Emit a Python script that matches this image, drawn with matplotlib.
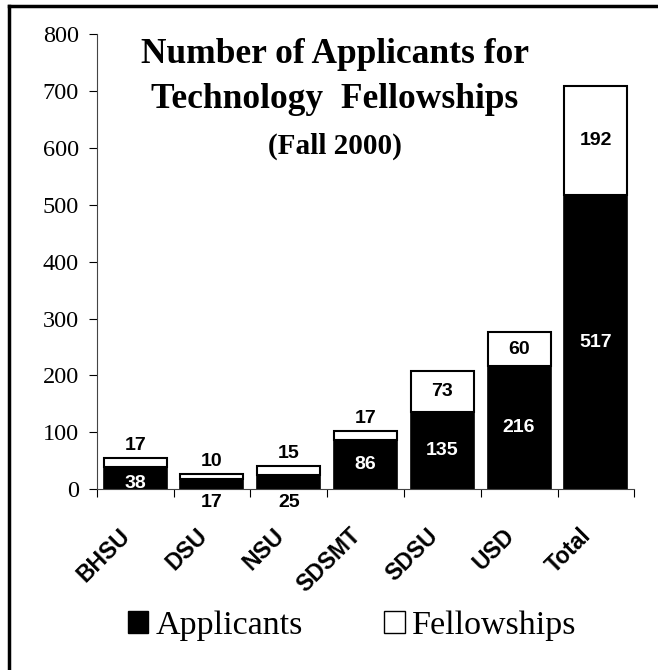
import matplotlib
matplotlib.use('Agg')
import matplotlib.pyplot as plt
import matplotlib.transforms as mtransforms
from matplotlib.patches import Patch
from matplotlib.lines import Line2D

# Data
schools = ['BHSU', 'DSU', 'NSU', 'SDSMT', 'SDSU', 'USD', 'Total']
applicants = [38, 17, 25, 86, 135, 216, 517]
fellowships = [17, 10, 15, 17, 73, 60, 192]

serif = 'Liberation Serif'
sans = 'Liberation Sans'

fig = plt.figure(figsize=(6.58, 6.70), dpi=100)
ax = fig.add_axes([0.147, 0.270, 0.817, 0.679])

x = list(range(len(schools)))
w = 0.82
ax.bar(x, applicants, w, color='black', edgecolor='black', linewidth=1.2, zorder=2)
ax.bar(x, fellowships, w, bottom=applicants, color='white', edgecolor='black',
       linewidth=1.5, zorder=2)

# value labels
lab = dict(fontfamily=sans, fontweight='bold', fontsize=14, ha='center', va='center', zorder=3)
for i, (a, f) in enumerate(zip(applicants, fellowships)):
    top = a + f
    if a >= 50:
        ax.text(i, a / 2, str(a), color='white', **lab)
    elif a >= 30:
        ax.text(i, a / 2 - 10, str(a), color='white', **lab)
    else:
        ax.text(i, -24, str(a), color='black', clip_on=False, **lab)
    if f >= 50:
        ax.text(i, a + f / 2, str(f), color='black', **lab)
    else:
        ax.text(i, top + 22, str(f), color='black', **lab)

ax.set_xlim(-0.5, len(schools) - 0.5)
ax.set_ylim(0, 800)
ax.set_yticks(range(0, 801, 100))
ax.tick_params(axis='y', direction='out', length=6, width=0.8, labelsize=17.5, pad=7)
for t in ax.get_yticklabels():
    t.set_fontfamily(serif)

ax.set_xticks(x)
ax.set_xticklabels(schools, rotation=45, ha='right', va='center',
                   rotation_mode='anchor', fontfamily=sans, fontweight='bold', fontsize=16.5)
ax.tick_params(axis='x', which='major', length=0, pad=31)
ax.set_xticks([i - 0.5 for i in range(len(schools) + 1)], minor=True)
ax.tick_params(axis='x', which='minor', direction='out', length=6, width=0.8)
offset = mtransforms.ScaledTranslation(-0.08, 0.0, fig.dpi_scale_trans)
for t in ax.get_xticklabels():
    t.set_transform(t.get_transform() + offset)

for s in ['top', 'right']:
    ax.spines[s].set_visible(False)
ax.spines['left'].set_color('#444444')
ax.spines['bottom'].set_color('#444444')
ax.spines['left'].set_linewidth(0.8)
ax.spines['bottom'].set_linewidth(0.8)

# title
tx = 2.6
ax.text(tx, 749, 'Number of Applicants for', ha='center', va='baseline',
        fontfamily=serif, fontweight='bold', fontsize=25.5)
ax.text(tx, 671, 'Technology  Fellowships', ha='center', va='baseline',
        fontfamily=serif, fontweight='bold', fontsize=25.5)
ax.text(tx, 590, '(Fall 2000)', ha='center', va='baseline',
        fontfamily=serif, fontweight='bold', fontsize=21)

# legend
handles = [Patch(facecolor='black', edgecolor='black'),
           Patch(facecolor='white', edgecolor='black')]
fig.legend(handles, ['Applicants', 'Fellowships'], loc='center', bbox_to_anchor=(0.535, 0.066),
           ncol=2, frameon=False, prop={'family': serif, 'size': 24.5},
           handlelength=0.6, handleheight=0.6, handletextpad=0.2, columnspacing=2.4)

# border (top and left)
fig.add_artist(Line2D([9 / 658, 9 / 658], [0, 1 - 6 / 670], transform=fig.transFigure,
                      color='black', linewidth=2.5))
fig.add_artist(Line2D([9 / 658, 1], [1 - 6 / 670, 1 - 6 / 670], transform=fig.transFigure,
                      color='black', linewidth=2.5))

fig.savefig('out.png', dpi=100)
